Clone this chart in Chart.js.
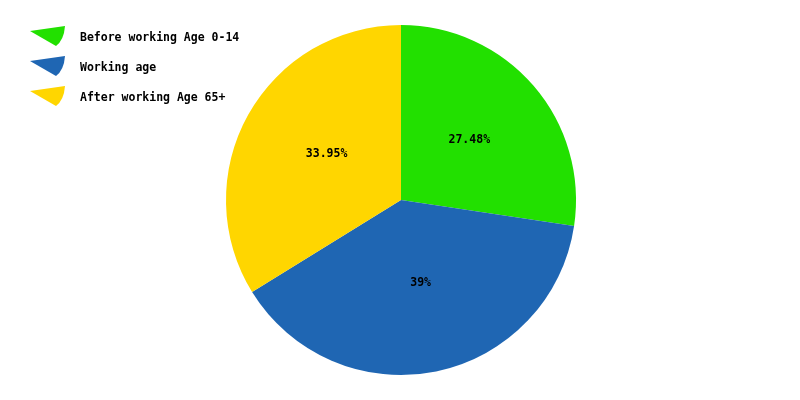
<!DOCTYPE html>
<html>
<head>
<meta charset="utf-8">
<script src="https://cdn.jsdelivr.net/npm/chart.js@4/dist/chart.umd.min.js"></script>
<style>
  html, body { margin: 0; padding: 0; background: #fff; }
  #wrap { width: 800px; height: 400px; }
</style>
</head>
<body>
<div id="wrap"><canvas id="pie"></canvas></div>
<script>
// age groups and their share of population
const groups = ["Before working Age 0-14", "Working age", "After working Age 65+"];
const shares = [27.48, 39, 33.95];
const shareLabels = ["27.48%", "39%", "33.95%"];
const colors = ["#22e000", "#1f66b3", "#ffd600"];

const monoFont = "bold 11.5px 'DejaVu Sans Mono', 'Liberation Mono', monospace";

// percentage text inside each slice
const sliceText = {
  id: "sliceText",
  afterDatasetsDraw(chart) {
    const c = chart.ctx;
    const meta = chart.getDatasetMeta(0);
    c.save();
    c.font = monoFont;
    c.fillStyle = "#000";
    c.textAlign = "center";
    c.textBaseline = "middle";
    meta.data.forEach((arc, i) => {
      const mid = (arc.startAngle + arc.endAngle) / 2;
      const r = arc.outerRadius * 0.5;
      c.fillText(shareLabels[i], arc.x + Math.cos(mid) * r + 2, arc.y + Math.sin(mid) * r - 3);
    });
    c.restore();
  }
};

// wedge shaped legend on the left
const wedgeLegend = {
  id: "wedgeLegend",
  afterDraw(chart) {
    const c = chart.ctx;
    c.save();
    groups.forEach((g, i) => {
      const y = 37 + i * 30;
      c.fillStyle = colors[i];
      c.beginPath();
      c.moveTo(30, y - 6);
      c.lineTo(65, y - 11);
      c.quadraticCurveTo(64, y + 3, 56, y + 9);
      c.closePath();
      c.fill();
      c.font = monoFont;
      c.fillStyle = "#000";
      c.textBaseline = "middle";
      c.fillText(g, 80, y + 1);
    });
    c.restore();
  }
};

new Chart(document.getElementById("pie"), {
  type: "pie",
  data: {
    labels: groups,
    datasets: [{
      data: shares,
      backgroundColor: colors,
      borderWidth: 0
    }]
  },
  options: {
    responsive: true,
    maintainAspectRatio: false,
    animation: false,
    layout: { padding: { top: 25, bottom: 25, left: 2, right: 0 } },
    plugins: {
      legend: { display: false },
      tooltip: { enabled: false }
    }
  },
  plugins: [sliceText, wedgeLegend]
});
</script>
</body>
</html>
